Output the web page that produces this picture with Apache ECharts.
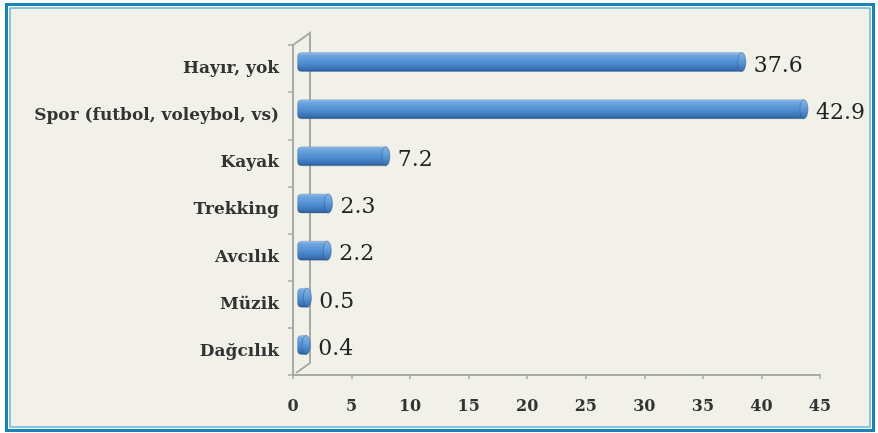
<!DOCTYPE html>
<html>
<head>
<meta charset="utf-8">
<script src="https://cdn.jsdelivr.net/npm/echarts@6/dist/echarts.min.js"></script>
<style>
  html, body { margin: 0; padding: 0; background: #ffffff; }
  #chart { width: 878px; height: 433px; }
</style>
</head>
<body>
<div id="chart"></div>
<script>
// Activities (percent of respondents)
const categories = ['Hayır, yok', 'Spor (futbol, voleybol, vs)', 'Kayak', 'Trekking', 'Avcılık', 'Müzik', 'Dağcılık'];
const values = [37.6, 42.9, 7.2, 2.3, 2.2, 0.5, 0.4];
const axisMin = 0;
const axisMax = 45;
const axisStep = 5;

// Pseudo-3D depth of the back wall (pixels)
const DEPTH_X = 17;
const DEPTH_Y = -12;
const BAR_H = 19;
const CAP_RX = 4;

const SERIF = '"DejaVu Serif", "Liberation Serif", serif';
const BG = '#f1f0e9';
const AXIS_GRAY = '#a9a9a6';

const chart = echarts.init(document.getElementById('chart'), null, { renderer: 'canvas' });

function barGradient() {
  return new echarts.graphic.LinearGradient(0, 0, 0, 1, [
    { offset: 0, color: '#9cc3ea' },
    { offset: 0.15, color: '#6ea6df' },
    { offset: 0.55, color: '#4f8dd1' },
    { offset: 0.85, color: '#3a71b3' },
    { offset: 1, color: '#2b5790' }
  ]);
}

function capGradient() {
  return new echarts.graphic.LinearGradient(0, 0, 0, 1, [
    { offset: 0, color: '#8ab8e6' },
    { offset: 0.5, color: '#5b97d6' },
    { offset: 1, color: '#356aa9' }
  ]);
}

// Back wall of the 3D frame, drawn from the grid rectangle
function renderWall(params) {
  const cs = params.coordSys;
  const x = cs.x, y = cs.y, w = cs.width, h = cs.height;
  return {
    type: 'polyline',
    shape: {
      points: [
        [x, y],
        [x + DEPTH_X, y + DEPTH_Y],
        [x + DEPTH_X, y + h + DEPTH_Y],
        [x + 3, y + h - 2]
      ]
    },
    style: { stroke: AXIS_GRAY, lineWidth: 2, fill: null },
    silent: true
  };
}

// Cylinder-like bar with rounded ends and its value label
function renderBar(params, api) {
  const v = api.value(0);
  const idx = api.value(1);
  const p0 = api.coord([axisMin, idx]);
  const p1 = api.coord([v, idx]);
  const x0 = p0[0] + DEPTH_X / 2;
  const x1 = p1[0] + DEPTH_X / 2;
  const cy = p0[1] + DEPTH_Y / 2 - 0.5;
  const top = cy - BAR_H / 2;
  const len = Math.max(x1 - x0, 1);
  return {
    type: 'group',
    children: [
      {
        type: 'rect',
        shape: { x: x0 - CAP_RX, y: top, width: len + CAP_RX, height: BAR_H, r: [CAP_RX, 0, 0, CAP_RX] },
        style: { fill: barGradient(), stroke: 'rgba(40,80,130,0.35)', lineWidth: 0.6 }
      },
      {
        type: 'ellipse',
        shape: { cx: x1, cy: cy, rx: CAP_RX, ry: BAR_H / 2 },
        style: { fill: capGradient(), stroke: 'rgba(45,90,150,0.7)', lineWidth: 0.7 }
      },
      {
        type: 'text',
        style: {
          text: String(v),
          x: x1 + CAP_RX + 8,
          y: cy + 4,
          verticalAlign: 'middle',
          align: 'left',
          fill: '#222222',
          font: '22px ' + SERIF
        }
      }
    ]
  };
}

const option = {
  backgroundColor: '#ffffff',
  animation: false,
  graphic: [
    {
      type: 'rect',
      shape: { x: 6.5, y: 4.5, width: 867, height: 426 },
      style: { fill: '#ffffff', stroke: '#1883b7', lineWidth: 3 },
      z: -10, silent: true
    },
    {
      type: 'rect',
      shape: { x: 10, y: 8, width: 860, height: 419 },
      style: { fill: BG, stroke: '#62b6d8', lineWidth: 1.5 },
      z: -9, silent: true
    }
  ],
  grid: { left: 293, right: 58, top: 45, bottom: 58, containLabel: false },
  xAxis: {
    type: 'value',
    min: axisMin,
    max: axisMax,
    interval: axisStep,
    splitLine: { show: false },
    axisLine: { show: true, lineStyle: { color: AXIS_GRAY, width: 2 } },
    axisTick: { show: true, length: 4, lineStyle: { color: AXIS_GRAY, width: 1.5 } },
    axisLabel: { color: '#333333', fontFamily: SERIF, fontWeight: 'bold', fontSize: 16, margin: 24 }
  },
  yAxis: {
    type: 'category',
    inverse: true,
    data: categories,
    axisLine: { show: true, lineStyle: { color: AXIS_GRAY, width: 2 } },
    axisTick: { show: true, length: 5, lineStyle: { color: AXIS_GRAY, width: 1.5 } },
    axisLabel: { color: '#333333', fontFamily: SERIF, fontWeight: 'bold', fontSize: 17, margin: 14 }
  },
  series: [
    {
      type: 'custom',
      name: 'wall',
      renderItem: renderWall,
      data: [[0, 0]],
      encode: { x: 0, y: 1 },
      z: 1,
      silent: true
    },
    {
      type: 'custom',
      name: 'Yüzde',
      renderItem: renderBar,
      data: values.map((v, i) => [v, i]),
      encode: { x: 0, y: 1 },
      z: 3
    }
  ]
};

chart.setOption(option);
</script>
</body>
</html>
